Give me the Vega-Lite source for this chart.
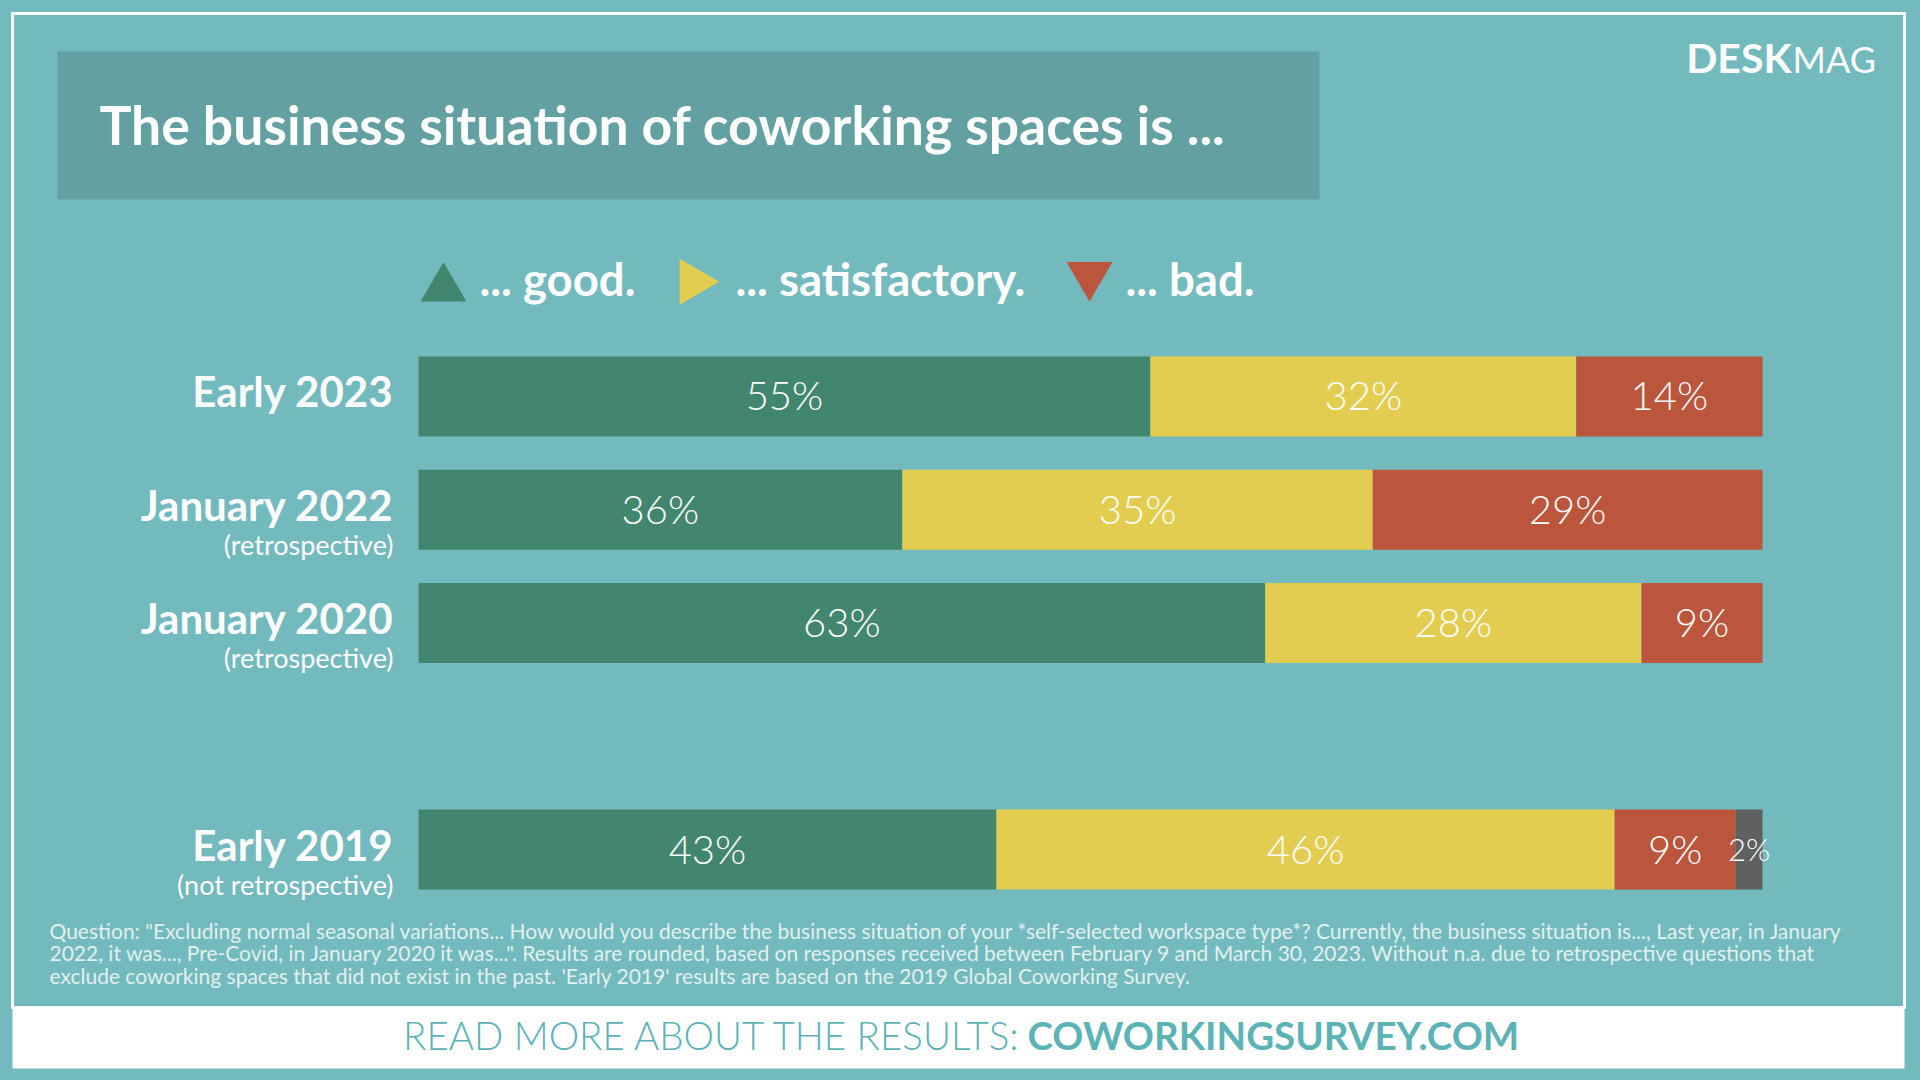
{
  "$schema": "https://vega.github.io/schema/vega-lite/v6.json",
  "description": "The business situation of coworking spaces",
  "background": "#72babd",
  "padding": {"left": 10.5, "top": 11.5, "right": 14.5, "bottom": 12},
  "bounds": "flush",
  "spacing": 0,
  "config": {
    "view": {"stroke": null},
    "font": "Lato",
    "text": {"font": "Lato"}
  },
  "datasets": {
    "shares": [
      {"period": "Early 2023", "answer": "good", "share": 55},
      {"period": "Early 2023", "answer": "satisfactory", "share": 32},
      {"period": "Early 2023", "answer": "bad", "share": 14},
      {"period": "January 2022", "answer": "good", "share": 36},
      {"period": "January 2022", "answer": "satisfactory", "share": 35},
      {"period": "January 2022", "answer": "bad", "share": 29},
      {"period": "January 2020", "answer": "good", "share": 63},
      {"period": "January 2020", "answer": "satisfactory", "share": 28},
      {"period": "January 2020", "answer": "bad", "share": 9},
      {"period": "Early 2019", "answer": "good", "share": 43},
      {"period": "Early 2019", "answer": "satisfactory", "share": 46},
      {"period": "Early 2019", "answer": "bad", "share": 9},
      {"period": "Early 2019", "answer": "n.a.", "share": 2}
    ],
    "answers": [
      {"answer": "good", "rank": 1},
      {"answer": "satisfactory", "rank": 2},
      {"answer": "bad", "rank": 3},
      {"answer": "n.a.", "rank": 4}
    ],
    "rows": [
      {"period": "Early 2023", "note": ""},
      {"period": "January 2022", "note": "(retrospective)"},
      {"period": "January 2020", "note": "(retrospective)"},
      {"period": "Early 2019", "note": "(not retrospective)"}
    ]
  },
  "vconcat": [
    {
      "width": 1892,
      "height": 994,
      "view": {"stroke": "white", "strokeWidth": 3},
      "resolve": {"scale": {"x": "independent", "y": "independent"}},
      "layer": [
        {
          "data": {"name": "shares"},
          "transform": [
            {"lookup": "answer", "from": {"data": {"name": "answers"}, "key": "answer", "fields": ["rank"]}},
            {"stack": "share", "groupby": ["period"], "sort": [{"field": "rank", "order": "ascending"}], "offset": "normalize", "as": ["x0", "x1"]},
            {"calculate": "(datum.x0 + datum.x1) / 2", "as": "mid"},
            {"calculate": "datum.share + '%'", "as": "label"}
          ],
          "encoding": {
            "y": {
              "field": "period",
              "type": "nominal",
              "scale": {
                "domain": ["Early 2023", "January 2022", "January 2020", "gap", "Early 2019"],
                "range": [343, 876],
                "paddingInner": 0.2936,
                "paddingOuter": 0
              },
              "axis": null
            }
          },
          "layer": [
            {
              "mark": {"type": "bar"},
              "encoding": {
                "x": {
                  "field": "x0",
                  "type": "quantitative",
                  "scale": {"domain": [0, 1], "range": [406, 1750], "nice": false, "zero": false},
                  "axis": null
                },
                "x2": {"field": "x1"},
                "color": {
                  "field": "answer",
                  "type": "nominal",
                  "scale": {
                    "domain": ["good", "satisfactory", "bad", "n.a."],
                    "range": ["#42866f", "#e2cd50", "#bb553b", "#5f6161"]
                  },
                  "legend": {
                    "values": ["good", "satisfactory", "bad"],
                    "title": null,
                    "orient": "none",
                    "legendX": 408,
                    "legendY": 245,
                    "direction": "horizontal",
                    "padding": 0,
                    "labelExpr": "'... ' + datum.label + '.'",
                    "labelFont": "Lato",
                    "labelFontSize": 45.5,
                    "labelFontWeight": "bold",
                    "labelColor": "white",
                    "labelOffset": 13,
                    "labelLimit": 600,
                    "columnPadding": 41,
                    "symbolSize": 2100,
                    "symbolStrokeWidth": 0,
                    "symbolOpacity": 1,
                    "encode": {
                      "symbols": {
                        "update": {
                          "shape": {"signal": "datum.value === 'good' ? 'triangle-up' : datum.value === 'satisfactory' ? 'triangle-right' : 'triangle-down'"}
                        }
                      }
                    }
                  }
                }
              }
            },
            {
              "mark": {"type": "text", "color": "white", "font": "Lato", "fontWeight": 300, "baseline": "middle", "align": "center", "dy": 2},
              "encoding": {
                "x": {"field": "mid", "type": "quantitative"},
                "text": {"field": "label"},
                "size": {"condition": {"test": "datum.share < 5", "value": 31}, "value": 40}
              }
            },
            {
              "data": {"name": "rows"},
              "mark": {"type": "text", "color": "white", "font": "Lato", "fontWeight": "bold", "fontSize": 42, "align": "right", "baseline": "alphabetic", "dx": -26, "dy": 11},
              "encoding": {
                "x": {"datum": 0, "type": "quantitative"},
                "text": {"field": "period"}
              }
            },
            {
              "data": {"name": "rows"},
              "mark": {"type": "text", "color": "white", "font": "Lato", "fontSize": 27, "align": "right", "baseline": "alphabetic", "dx": -25, "dy": 45},
              "encoding": {
                "x": {"datum": 0, "type": "quantitative"},
                "text": {"field": "note"}
              }
            }
          ]
        },
        {
          "data": {"values": [{}]},
          "layer": [
            {
              "mark": {"type": "rect", "color": "#62a0a1"},
              "encoding": {
                "x": {"datum": 45, "type": "quantitative", "scale": {"domain": [0, 1892], "range": [0, 1892], "nice": false, "zero": false}, "axis": null},
                "x2": {"datum": 1307},
                "y": {"datum": 38, "type": "quantitative", "scale": {"domain": [0, 994], "range": [0, 994], "nice": false, "zero": false}, "axis": null},
                "y2": {"datum": 186}
              }
            },
            {
              "mark": {"type": "text", "text": "The business situation of coworking spaces is ...", "color": "white", "font": "Lato", "fontWeight": "bold", "fontSize": 53.5, "align": "left", "baseline": "alphabetic"},
              "encoding": {
                "x": {"datum": 87, "type": "quantitative"},
                "y": {"datum": 131, "type": "quantitative"}
              }
            },
            {
              "mark": {"type": "text", "text": "DESK", "color": "white", "font": "Lato", "fontWeight": "bold", "fontSize": 41, "align": "right", "baseline": "alphabetic"},
              "encoding": {
                "x": {"datum": 1779, "type": "quantitative"},
                "y": {"datum": 59, "type": "quantitative"}
              }
            },
            {
              "mark": {"type": "text", "text": "MAG", "color": "white", "font": "Lato", "fontSize": 36, "align": "left", "baseline": "alphabetic"},
              "encoding": {
                "x": {"datum": 1780, "type": "quantitative"},
                "y": {"datum": 59, "type": "quantitative"}
              }
            },
            {
              "mark": {
                "type": "text",
                "text": [
                  "Question: \"Excluding normal seasonal variations... How would you describe the business situation of your *self-selected workspace type*? Currently, the business situation is..., Last year, in January",
                  "2022, it was..., Pre-Covid, in January 2020 it was...\". Results are rounded, based on responses received between February 9 and March 30, 2023. Without n.a. due to retrospective questions that",
                  "exclude coworking spaces that did not exist in the past. 'Early 2019' results are based on the 2019 Global Coworking Survey."
                ],
                "color": "#e2f0f0",
                "font": "Lato",
                "fontSize": 21,
                "lineHeight": 22.5,
                "align": "left",
                "baseline": "alphabetic"
              },
              "encoding": {
                "x": {"datum": 37, "type": "quantitative"},
                "y": {"datum": 925, "type": "quantitative"}
              }
            }
          ]
        }
      ]
    },
    {
      "width": 1892,
      "height": 61,
      "view": {"fill": "white", "stroke": null},
      "data": {"values": [{}]},
      "layer": [
        {
          "mark": {"type": "text", "text": "READ MORE ABOUT THE RESULTS:", "color": "#5cb3b6", "font": "Lato", "fontWeight": 300, "fontSize": 38.5, "align": "right", "baseline": "middle", "dx": 60},
          "encoding": {}
        },
        {
          "mark": {"type": "text", "text": "COWORKINGSURVEY.COM", "color": "#5cb3b6", "font": "Lato", "fontWeight": "bold", "fontSize": 38.5, "align": "left", "baseline": "middle", "dx": 69},
          "encoding": {}
        }
      ]
    }
  ]
}
